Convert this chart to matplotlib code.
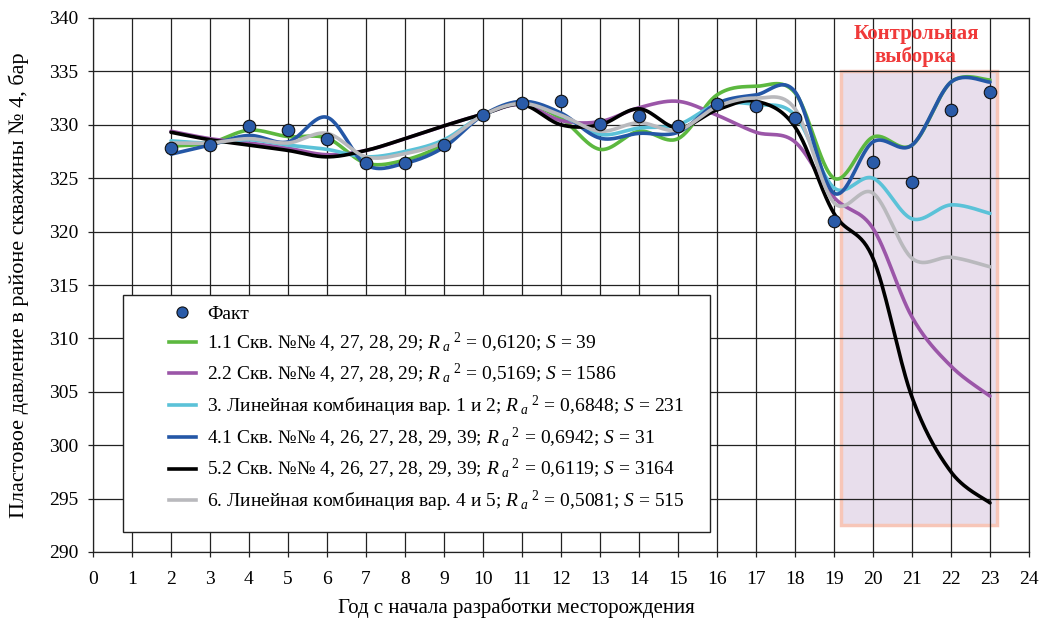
import numpy as np
import matplotlib
matplotlib.use("Agg")
import matplotlib.pyplot as plt
from matplotlib.patches import Rectangle
from matplotlib.lines import Line2D

plt.rcParams['font.family'] = ['Liberation Serif', 'DejaVu Serif']
plt.rcParams['mathtext.fontset'] = 'custom'
plt.rcParams['mathtext.rm'] = 'Liberation Serif'
plt.rcParams['mathtext.it'] = 'Liberation Serif:italic'

# ---------------- data ----------------
years = list(range(2, 24))
fact = [327.8, 328.1, 329.85, 329.55, 328.7, 326.4, 326.45, 328.15, 330.9, 332.0, 332.25,
        330.1, 330.85, 329.9, 331.95, 331.75, 330.6, 320.95, 326.55, 324.6, 331.35, 333.05]

v11 = [328.0, 328.3, 329.5, 328.9, 328.75, 326.4, 326.7, 328.2, 330.9, 332.0, 330.6,
       327.7, 329.4, 328.7, 332.8, 333.6, 333.0, 325.0, 328.85, 328.1, 334.0, 334.2]
v22 = [329.4, 328.7, 328.3, 327.8, 327.2, 327.6, 328.7, 329.9, 331.0, 331.9, 330.4,
       330.3, 331.6, 332.2, 330.9, 329.3, 328.4, 323.2, 320.3, 312.0, 307.4, 304.6]
v3 = [328.5, 328.3, 328.6, 328.1, 327.7, 327.0, 327.5, 328.6, 330.9, 332.0, 330.9,
      329.1, 329.7, 330.0, 331.9, 331.9, 330.9, 324.1, 325.0, 321.2, 322.5, 321.7]
v41 = [327.25, 328.1, 329.0, 328.4, 330.7, 326.25, 326.4, 327.9, 330.9, 332.2, 331.1,
       328.75, 329.2, 329.3, 332.0, 332.8, 333.1, 323.6, 328.4, 328.1, 334.0, 334.0]
v52 = [329.3, 328.6, 328.1, 327.6, 327.0, 327.6, 328.7, 329.9, 331.0, 331.9, 330.0,
       330.0, 331.5, 329.7, 331.4, 332.2, 329.8, 321.7, 317.5, 304.5, 297.5, 294.6]
v6 = [328.3, 328.3, 328.7, 328.3, 329.2, 327.0, 327.3, 328.4, 330.9, 332.0, 330.9,
      329.4, 330.2, 329.5, 331.7, 332.5, 331.5, 322.7, 323.6, 317.5, 317.6, 316.7]

RA = r"$R_{\ a}{}^{\ 2}$"
labels = [
    "1.1 Скв. №№ 4, 27, 28, 29; " + RA + r" = 0,6120; $S$ = 39",
    "2.2 Скв. №№ 4, 27, 28, 29; " + RA + r" = 0,5169; $S$ = 1586",
    "3. Линейная комбинация вар. 1 и 2; " + RA + r" = 0,6848; $S$ = 231",
    "4.1 Скв. №№ 4, 26, 27, 28, 29, 39; " + RA + r" = 0,6942; $S$ = 31",
    "5.2 Скв. №№ 4, 26, 27, 28, 29, 39; " + RA + r" = 0,6119; $S$ = 3164",
    "6. Линейная комбинация вар. 4 и 5; " + RA + r" = 0,5081; $S$ = 515",
]
series = [v11, v22, v3, v41, v52, v6]
colors = ['#5cb83f', '#9b56a8', '#5bc2d8', '#2457a6', '#000000', '#b9b9bd']

control_x = (19.18, 23.18)
control_y = (292.5, 335.0)


def smooth(xs, ys, n=30):
    """Catmull-Rom (Excel-like) smoothing through the points."""
    xs = np.asarray(xs, float)
    ys = np.asarray(ys, float)
    P = np.column_stack([xs, ys])
    P = np.vstack([P[0], P, P[-1]])
    out = []
    t = np.linspace(0, 1, n, endpoint=False)
    for i in range(1, len(P) - 2):
        p0, p1, p2, p3 = P[i - 1], P[i], P[i + 1], P[i + 2]
        c1 = p1 + (p2 - p0) / 6.0
        c2 = p2 - (p3 - p1) / 6.0
        seg = ((1 - t)[:, None] ** 3 * p1 + 3 * ((1 - t) ** 2 * t)[:, None] * c1
               + 3 * ((1 - t) * t ** 2)[:, None] * c2 + (t ** 3)[:, None] * p2)
        out.append(seg)
    out.append(P[-2][None, :])
    out = np.vstack(out)
    return out[:, 0], out[:, 1]


fig = plt.figure(figsize=(10.41, 6.23), dpi=100)
ax = fig.add_axes([93 / 1041, 1 - 552 / 623, 936 / 1041, 534 / 623])

ax.set_xlim(0, 24)
ax.set_ylim(290, 340)
ax.set_xticks(range(0, 25))
ax.set_yticks(range(290, 341, 5))
ax.set_axisbelow(True)
ax.grid(True, color='#222222', linewidth=0.9)
ax.tick_params(direction='out', length=3.5, width=0.9, labelsize=14, color='#222222')
ax.tick_params(axis='x', pad=10)
ax.tick_params(axis='y', pad=7)
for s in ax.spines.values():
    s.set_color('#222222')
    s.set_linewidth(0.9)

# control sample box
ax.add_patch(Rectangle((control_x[0], control_y[0]), control_x[1] - control_x[0],
                       control_y[1] - control_y[0], facecolor='#e8deec',
                       edgecolor='#f7c6b8', linewidth=2.5, zorder=0.2))
ax.text(21.1, 337.4, "Контрольная\nвыборка", color='#f03a3a', fontsize=15,
        fontweight='bold', ha='center', va='center', linespacing=1.15, zorder=6)

handles = []
for vals, c, lab in zip(series, colors, labels):
    sx, sy = smooth(years, vals)
    ax.plot(sx, sy, color=c, linewidth=2.6, solid_capstyle='round', zorder=3)
    handles.append(Line2D([], [], color=c, linewidth=2.6, label=lab))

ax.plot(years, fact, linestyle='none', marker='o', markersize=9,
        markerfacecolor='#2a5ba8', markeredgecolor='#111111', markeredgewidth=0.8, zorder=5)
fact_handle = Line2D([], [], linestyle='none', marker='o', markersize=8,
                     markerfacecolor='#2a5ba8', markeredgecolor='#111111',
                     markeredgewidth=0.8, label='Факт')

# legend box
ax.add_patch(Rectangle((30 / 936, 20 / 534), 587 / 936, 237 / 534, transform=ax.transAxes,
                       facecolor='white', edgecolor='#222222', linewidth=1.0, zorder=7))
leg = ax.legend(handles=[fact_handle] + handles, loc='upper left',
                bbox_to_anchor=(60 / 936, 1 - 272 / 534), frameon=False, fontsize=14,
                handlelength=1.4, handletextpad=0.6, labelspacing=0.38, borderpad=0.3)
leg.set_zorder(8)

ax.set_xlabel("Год с начала разработки месторождения", fontsize=15)
ax.xaxis.set_label_coords(0.452, -0.085)
ax.set_ylabel("Пластовое давление в районе скважины № 4, бар", fontsize=16)
ax.yaxis.set_label_coords(-0.068, 0.5)

fig.savefig("out.png", dpi=100)
